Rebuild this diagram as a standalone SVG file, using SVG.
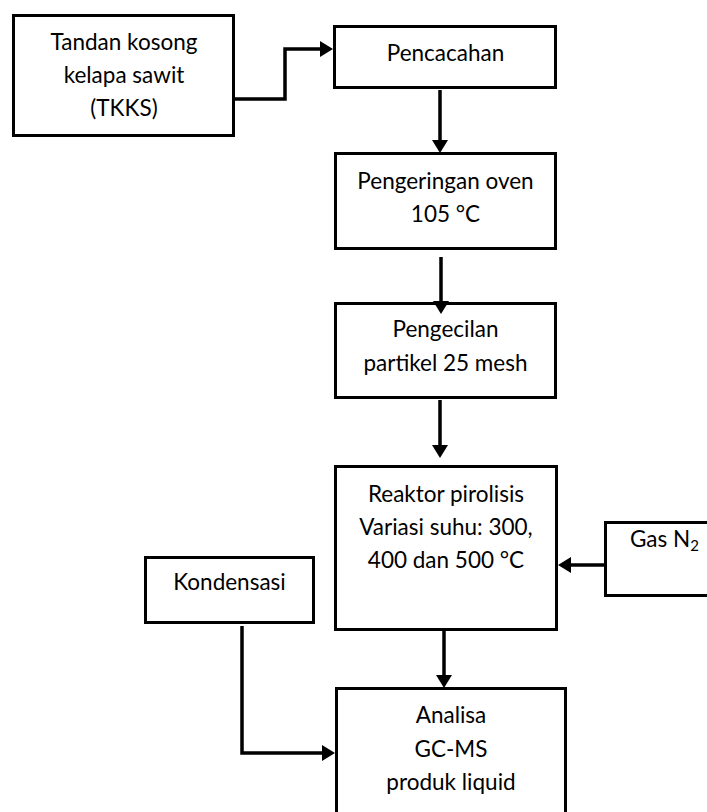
<svg xmlns="http://www.w3.org/2000/svg" width="707" height="812" viewBox="0 0 707 812">
<style>
.box{fill:#fff;stroke:#000;stroke-width:3}
.lbl{font-family:Lato,"Open Sans","Liberation Sans",sans-serif;font-size:22.5px;fill:#000;text-anchor:middle}
.con{fill:none;stroke:#000;stroke-width:3.5}
</style>
<defs>
<marker id="ah" markerUnits="userSpaceOnUse" markerWidth="14" markerHeight="18" refX="0" refY="9" orient="auto">
<path d="M0,1 L13,9 L0,17 z" fill="#000"/>
</marker>
</defs>
<rect width="707" height="812" fill="#fff"/>
<g id="tkks">
<rect class="box" x="13.5" y="15.5" width="220" height="120"/>
<text class="lbl" x="124" y="50">Tandan kosong</text>
<text class="lbl" x="124" y="83">kelapa sawit</text>
<text class="lbl" x="124" y="116">(TKKS)</text>
</g>
<g id="pencacahan">
<rect class="box" x="334.5" y="26.5" width="221" height="61"/>
<text class="lbl" x="445.5" y="61">Pencacahan</text>
</g>
<g id="pengeringan">
<rect class="box" x="335.5" y="153.5" width="220" height="95"/>
<text class="lbl" x="445.5" y="189">Pengeringan oven</text>
<text class="lbl" x="445.5" y="222">105 °C</text>
</g>
<g id="pengecilan">
<rect class="box" x="335.5" y="303.5" width="220" height="94"/>
<text class="lbl" x="445.5" y="337">Pengecilan</text>
<text class="lbl" x="445.5" y="371">partikel 25 mesh</text>
</g>
<g id="reaktor">
<rect class="box" x="335.5" y="466.5" width="221" height="163"/>
<text class="lbl" x="446" y="502">Reaktor pirolisis</text>
<text class="lbl" x="446" y="535">Variasi suhu: 300,</text>
<text class="lbl" x="446" y="568">400 dan 500 °C</text>
</g>
<g id="gas">
<rect class="box" x="605.5" y="522.5" width="110" height="73"/>
<text class="lbl" x="630" y="547" style="text-anchor:start">Gas N<tspan font-size="15" dy="4">2</tspan></text>
</g>
<g id="kondensasi">
<rect class="box" x="145.5" y="557.5" width="168" height="65"/>
<text class="lbl" x="229.5" y="590">Kondensasi</text>
</g>
<g id="analisa">
<rect class="box" x="336.5" y="688.5" width="229" height="140"/>
<text class="lbl" x="451" y="723">Analisa</text>
<text class="lbl" x="451" y="757">GC-MS</text>
<text class="lbl" x="451" y="790">produk liquid</text>
</g>
<g id="connectors">
<path class="con" d="M235,99 H285 V49 H320" marker-end="url(#ah)"/>
<path class="con" d="M440,90 V140" marker-end="url(#ah)"/>
<path class="con" d="M441,257 V301" marker-end="url(#ah)"/>
<path class="con" d="M440,400 V445" marker-end="url(#ah)"/>
<path class="con" d="M604,565 H571" marker-end="url(#ah)"/>
<path class="con" d="M444,631 V675" marker-end="url(#ah)"/>
<path class="con" d="M242,626 V753 H322" marker-end="url(#ah)"/>
</g>
</svg>
